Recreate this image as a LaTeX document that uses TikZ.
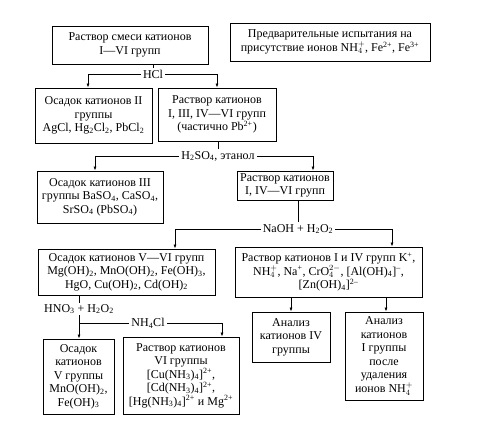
\documentclass[tikz,border=0pt]{standalone}
\usepackage{fontspec}
\setmainfont{Liberation Serif}
\usetikzlibrary{arrows.meta}
\newcommand{\SbSp}[2]{$^{#2}_{#1}$}
\newcommand{\sbs}[1]{\textsubscript{#1}}
\newcommand{\sps}[1]{\textsuperscript{#1}}
\tikzset{
  box/.style={draw, line width=0.9pt, align=center, inner sep=2pt, font=\fontsize{12}{13.5}\selectfont},
  lbl/.style={fill=white, inner sep=2pt, font=\fontsize{12}{13.5}\selectfont},
  conn/.style={line width=0.7pt},
  arr/.style={conn, -{Latex[length=4pt,width=3pt]}}
}
\begin{document}
\begin{tikzpicture}[x=1pt,y=-1pt]
\useasboundingbox (0,0) rectangle (494,438);
\fill[white] (0,0) rectangle (494,438);

\node[box, minimum width=156pt, minimum height=38pt] (b1) at (130,45) {Раствор смеси катионов\\ I—VI групп};
\node[box, minimum width=200pt, minimum height=38pt] (b2) at (330,42) {Предварительные испытания на\\ присутствие ионов NH\SbSp{4}{+}, Fe\sps{2+}, Fe\sps{3+}};
\node[box, minimum width=117pt, minimum height=55pt] (b3) at (93.5,115.5) {Осадок катионов II\\ группы\\ AgCl, Hg\sbs{2}Cl\sbs{2}, PbCl\sbs{2}};
\node[box, minimum width=118pt, minimum height=53pt] (b4) at (217,114.5) {Раствор катионов\\ I, III, IV—VI групп\\ (частично Pb\sps{2+})};
\node[box, minimum width=126pt, minimum height=52pt] (b5) at (100,197) {Осадок катионов III\\ группы BaSO\sbs{4}, CaSO\sbs{4},\\ SrSO\sbs{4} (PbSO\sbs{4})};
\node[box, minimum width=96pt, minimum height=29pt] (b6) at (285,185.5) {Раствор катионов\\ I, IV—VI групп};
\node[box, minimum width=177pt, minimum height=46pt] (b7) at (126.5,272) {Осадок катионов V—VI групп\\ Mg(OH)\sbs{2}, MnO(OH)\sbs{2}, Fe(OH)\sbs{3},\\ HgO, Cu(OH)\sbs{2}, Cd(OH)\sbs{2}};
\node[box, minimum width=187pt, minimum height=50pt] (b8) at (328.5,272) {Раствор катионов I и IV групп K\sps{+},\\ NH\SbSp{4}{+}, Na\sps{+}, CrO\SbSp{4}{2-}, {[}Al(OH)\sbs{4}{]}\sps{–},\\ {[}Zn(OH)\sbs{4}{]}\sps{2–}};
\node[box, minimum width=78pt, minimum height=50pt] (b9) at (291,337) {Анализ\\ катионов IV\\ группы};
\node[box, minimum width=78pt, minimum height=88pt] (b10) at (384,356) {Анализ\\ катионов\\ I группы\\ после\\ удаления\\ ионов NH\SbSp{4}{+}};
\node[box, minimum width=71pt, minimum height=75pt] (b11) at (78.5,376.5) {Осадок\\ катионов\\ V группы\\ MnO(OH)\sbs{2},\\ Fe(OH)\sbs{3}};
\node[box, minimum width=116pt, minimum height=77pt] (b12) at (181,375.5) {Раствор катионов\\ VI группы\\ {[}Cu(NH\sbs{3})\sbs{4}{]}\sps{2+},\\ {[}Cd(NH\sbs{3})\sbs{4}{]}\sps{2+},\\ {[}Hg(NH\sbs{3})\sbs{4}{]}\sps{2+} и Mg\sps{2+}};

% HCl
\coordinate (j1) at (153,74);
\coordinate (l1) at (88,74);
\coordinate (r1) at (217,74);
\draw[conn] (b1.south -| j1) -- (j1);
\draw[conn] (l1) -- (r1);
\draw[arr] (l1) -- (l1 |- b3.north);
\draw[arr] (r1) -- (r1 |- b4.north);
\node[lbl] (hcl) at (j1) {HCl};

% H2SO4
\coordinate (j2) at (218,156);
\coordinate (l2) at (95,156);
\coordinate (r2) at (313,156);
\draw[conn] (b4.south -| j2) -- (j2);
\draw[conn] (l2) -- (r2);
\draw[arr] (l2) -- (l2 |- b5.north);
\draw[arr] (r2) -- (r2 |- b6.north);
\node[lbl] (h2so4) at (j2) {H\sbs{2}SO\sbs{4}, этанол};

% NaOH
\coordinate (j3) at (298,229);
\coordinate (l3) at (175,229);
\coordinate (r3) at (392,229);
\draw[conn] (b6.south -| j3) -- (j3);
\draw[conn] (l3) -- (r3);
\draw[arr] (l3) -- (l3 |- b7.north);
\draw[arr] (r3) -- (r3 |- b8.north);
\node[lbl] (naoh) at (j3) {NaOH + H\sbs{2}O\sbs{2}};

% b8 -> b9, b10
\coordinate (s9) at (291,297);
\coordinate (s10) at (386,297);
\draw[arr] (b8.south -| s9) -- (b9.north -| s9);
\draw[arr] (b8.south -| s10) -- (b10.north -| s10);

% HNO3 / NH4Cl
\coordinate (l4) at (79,323);
\coordinate (r4) at (222,323);
\coordinate (m4) at (148,323);
\draw[conn] (b7.south -| l4) -- (l4);
\draw[conn] (l4) -- (r4);
\draw[arr] (l4) -- (l4 |- b11.north);
\draw[arr] (r4) -- (r4 |- b12.north);
\node[lbl, inner sep=1pt] (hno3) at (79,309) {HNO\sbs{3} + H\sbs{2}O\sbs{2}};
\node[lbl] (nh4cl) at (m4) {NH\sbs{4}Cl};
\end{tikzpicture}
\end{document}
